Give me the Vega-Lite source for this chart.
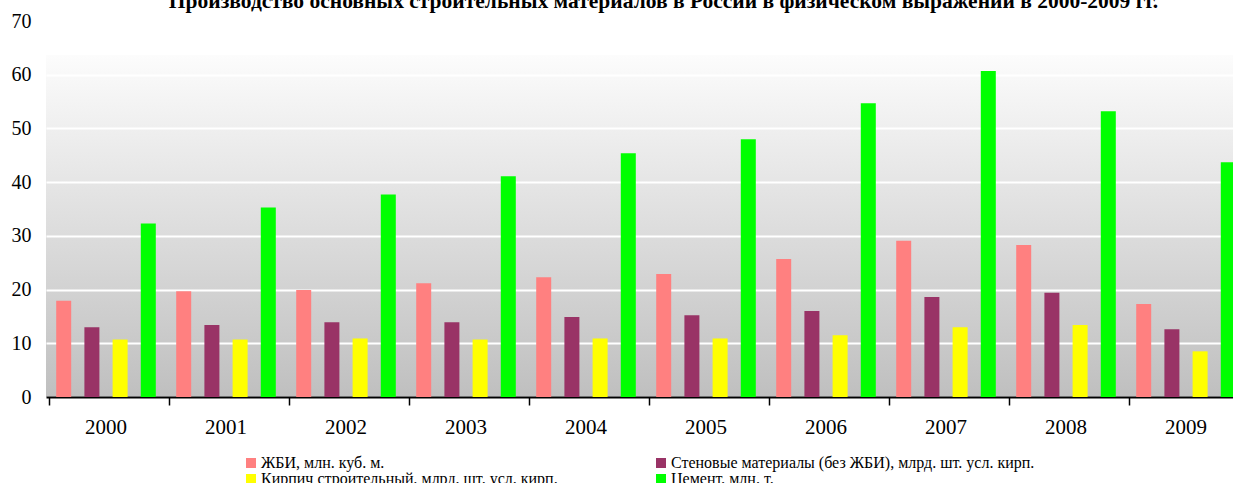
{
  "$schema": "https://vega.github.io/schema/vega-lite/v6.json",
  "width": 1187,
  "height": 376,
  "autosize": {"type": "none"},
  "padding": {"left": 46, "top": 21, "right": 0, "bottom": 86},
  "background": "white",
  "title": {
    "text": "Производство основных строительных материалов в России в физическом выражении в 2000-2009 гг.",
    "font": "Liberation Serif",
    "fontSize": 21.5,
    "fontWeight": "bold",
    "color": "black",
    "anchor": "middle",
    "frame": "group",
    "offset": 0,
    "dx": 24,
    "dy": 1
  },
  "config": {
    "view": {
      "stroke": null,
      "fill": {
        "gradient": "linear",
        "x1": 0, "y1": 0, "x2": 0, "y2": 1,
        "stops": [
          {"offset": 0, "color": "#ffffff"},
          {"offset": 0.09, "color": "#ffffff"},
          {"offset": 0.091, "color": "#fcfcfc"},
          {"offset": 1, "color": "#bfbfbf"}
        ]
      }
    }
  },
  "data": {
    "values": [
      {"year": "2000", "series": "ЖБИ, млн. куб. м.", "value": 17.9},
      {"year": "2000", "series": "Стеновые материалы (без ЖБИ), млрд. шт. усл. кирп.", "value": 13.0},
      {"year": "2000", "series": "Кирпич строительный, млрд. шт. усл. кирп.", "value": 10.7},
      {"year": "2000", "series": "Цемент, млн. т.", "value": 32.3},
      {"year": "2001", "series": "ЖБИ, млн. куб. м.", "value": 19.7},
      {"year": "2001", "series": "Стеновые материалы (без ЖБИ), млрд. шт. усл. кирп.", "value": 13.4},
      {"year": "2001", "series": "Кирпич строительный, млрд. шт. усл. кирп.", "value": 10.7},
      {"year": "2001", "series": "Цемент, млн. т.", "value": 35.3},
      {"year": "2002", "series": "ЖБИ, млн. куб. м.", "value": 19.9},
      {"year": "2002", "series": "Стеновые материалы (без ЖБИ), млрд. шт. усл. кирп.", "value": 13.9},
      {"year": "2002", "series": "Кирпич строительный, млрд. шт. усл. кирп.", "value": 10.9},
      {"year": "2002", "series": "Цемент, млн. т.", "value": 37.7},
      {"year": "2003", "series": "ЖБИ, млн. куб. м.", "value": 21.2},
      {"year": "2003", "series": "Стеновые материалы (без ЖБИ), млрд. шт. усл. кирп.", "value": 13.9},
      {"year": "2003", "series": "Кирпич строительный, млрд. шт. усл. кирп.", "value": 10.7},
      {"year": "2003", "series": "Цемент, млн. т.", "value": 41.1},
      {"year": "2004", "series": "ЖБИ, млн. куб. м.", "value": 22.3},
      {"year": "2004", "series": "Стеновые материалы (без ЖБИ), млрд. шт. усл. кирп.", "value": 14.9},
      {"year": "2004", "series": "Кирпич строительный, млрд. шт. усл. кирп.", "value": 10.9},
      {"year": "2004", "series": "Цемент, млн. т.", "value": 45.4},
      {"year": "2005", "series": "ЖБИ, млн. куб. м.", "value": 22.9},
      {"year": "2005", "series": "Стеновые материалы (без ЖБИ), млрд. шт. усл. кирп.", "value": 15.2},
      {"year": "2005", "series": "Кирпич строительный, млрд. шт. усл. кирп.", "value": 10.9},
      {"year": "2005", "series": "Цемент, млн. т.", "value": 48.0},
      {"year": "2006", "series": "ЖБИ, млн. куб. м.", "value": 25.7},
      {"year": "2006", "series": "Стеновые материалы (без ЖБИ), млрд. шт. усл. кирп.", "value": 16.0},
      {"year": "2006", "series": "Кирпич строительный, млрд. шт. усл. кирп.", "value": 11.5},
      {"year": "2006", "series": "Цемент, млн. т.", "value": 54.7},
      {"year": "2007", "series": "ЖБИ, млн. куб. м.", "value": 29.1},
      {"year": "2007", "series": "Стеновые материалы (без ЖБИ), млрд. шт. усл. кирп.", "value": 18.6},
      {"year": "2007", "series": "Кирпич строительный, млрд. шт. усл. кирп.", "value": 13.0},
      {"year": "2007", "series": "Цемент, млн. т.", "value": 60.7},
      {"year": "2008", "series": "ЖБИ, млн. куб. м.", "value": 28.3},
      {"year": "2008", "series": "Стеновые материалы (без ЖБИ), млрд. шт. усл. кирп.", "value": 19.4},
      {"year": "2008", "series": "Кирпич строительный, млрд. шт. усл. кирп.", "value": 13.4},
      {"year": "2008", "series": "Цемент, млн. т.", "value": 53.2},
      {"year": "2009", "series": "ЖБИ, млн. куб. м.", "value": 17.3},
      {"year": "2009", "series": "Стеновые материалы (без ЖБИ), млрд. шт. усл. кирп.", "value": 12.6},
      {"year": "2009", "series": "Кирпич строительный, млрд. шт. усл. кирп.", "value": 8.5},
      {"year": "2009", "series": "Цемент, млн. т.", "value": 43.7}
    ]
  },
  "mark": {"type": "bar"},
  "encoding": {
    "x": {
      "field": "year",
      "type": "nominal",
      "title": null,
      "scale": {"range": [0, 1200], "paddingInner": 0.06, "paddingOuter": 0.03},
      "axis": {
        "bandPosition": 0,
        "labelAngle": 0,
        "labelFont": "Liberation Serif",
        "labelFontSize": 21,
        "labelColor": "black",
        "labelPadding": 11,
        "tickSize": 8,
        "tickColor": "black",
        "tickWidth": 1.5,
        "domainColor": "black",
        "domainWidth": 2
      }
    },
    "xOffset": {
      "field": "series",
      "type": "nominal",
      "sort": null,
      "scale": {
        "domain": ["ЖБИ, млн. куб. м.", "Стеновые материалы (без ЖБИ), млрд. шт. усл. кирп.", "Кирпич строительный, млрд. шт. усл. кирп.", "Цемент, млн. т."],
        "paddingInner": 0.468,
        "paddingOuter": 0.234
      }
    },
    "y": {
      "field": "value",
      "type": "quantitative",
      "title": null,
      "scale": {"domain": [0, 70], "nice": false},
      "axis": {
        "values": [0, 10, 20, 30, 40, 50, 60, 70],
        "labelFont": "Liberation Serif",
        "labelFontSize": 20,
        "labelColor": "black",
        "labelPadding": 15,
        "ticks": false,
        "domain": false,
        "grid": true,
        "gridColor": "white",
        "gridWidth": 2,
        "gridOpacity": 1
      }
    },
    "color": {
      "field": "series",
      "type": "nominal",
      "scale": {
        "domain": ["ЖБИ, млн. куб. м.", "Кирпич строительный, млрд. шт. усл. кирп.", "Стеновые материалы (без ЖБИ), млрд. шт. усл. кирп.", "Цемент, млн. т."],
        "range": ["#ff8080", "#ffff00", "#993366", "#00ff00"]
      },
      "legend": {
        "title": null,
        "orient": "none",
        "legendX": 197,
        "legendY": 434,
        "columns": 2,
        "columnPadding": 95,
        "rowPadding": -3,
        "symbolType": "square",
        "symbolSize": 100,
        "symbolStrokeWidth": 0,
        "labelFont": "Liberation Serif",
        "labelFontSize": 16,
        "labelColor": "black",
        "labelOffset": 2,
        "labelLimit": 600
      }
    }
  }
}
